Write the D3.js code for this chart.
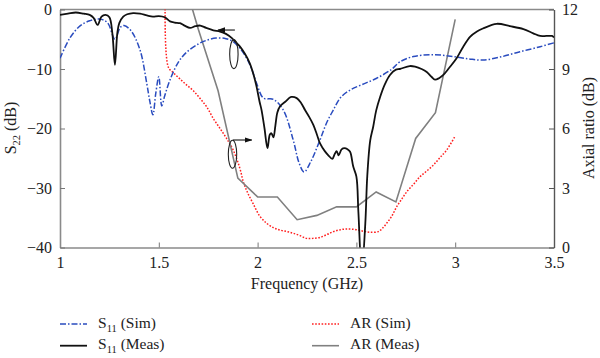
<!DOCTYPE html>
<html><head><meta charset="utf-8">
<script src="https://cdn.jsdelivr.net/npm/d3@7"></script>
<style>
body{margin:0;background:#fff;}
svg{display:block;}
text{font-family:"Liberation Serif","Times New Roman",serif;fill:#222;}
</style></head>
<body><svg id="c" width="600" height="358"></svg>
<script>
// ---- Data ----
const xTicks = [1, 1.5, 2, 2.5, 3, 3.5];
const xTickLabels = ["1", "1.5", "2", "2.5", "3", "3.5"];
const yLeftTicks = [0, -10, -20, -30, -40];
const yLeftTickLabels = ["0", "−10", "−20", "−30", "−40"];
const yRightTicks = [0, 3, 6, 9, 12];
const yRightTickLabels = ["0", "3", "6", "9", "12"];

const s11SimFreq = [1.0,1.05,1.1,1.15,1.2,1.24,1.278,1.305,1.324,1.36,1.405,1.439,1.455,1.47,1.485,1.50,1.515,1.53,1.557,1.6,1.64,1.7,1.74,1.79,1.84,1.876,1.91,1.945,1.97,1.995,2.03,2.08,2.13,2.18,2.21,2.235,2.27,2.316,2.35,2.383,2.42,2.47,2.53,2.60,2.68,2.72,2.788,2.889,2.99,3.07,3.14,3.227,3.328,3.43,3.5];
const s11SimDb = [-8.2,-4.8,-2.8,-1.9,-1.6,-2.2,-5.0,-3.0,-2.7,-3.6,-6.8,-12.4,-15.5,-17.7,-14,-11.3,-16.2,-14.5,-11.8,-8.8,-7.2,-5.8,-5.2,-4.8,-4.9,-5.4,-6.5,-8.2,-10,-12.4,-14.9,-15.1,-16.9,-21.9,-25.8,-27.3,-25.5,-21.9,-19,-16.9,-14.8,-13.5,-12.6,-11.6,-10.0,-8.8,-7.9,-7.6,-7.9,-8.3,-8.5,-8.0,-7.1,-6.25,-5.6];

const s11MeasFreq = [1.0,1.04,1.08,1.12,1.15,1.17,1.19,1.21,1.23,1.25,1.265,1.278,1.29,1.30,1.32,1.34,1.37,1.405,1.44,1.47,1.50,1.53,1.557,1.58,1.607,1.63,1.658,1.685,1.71,1.74,1.776,1.81,1.84,1.87,1.89,1.91,1.935,1.96,1.98,1.995,2.01,2.02,2.035,2.05,2.062,2.07,2.08,2.09,2.10,2.113,2.14,2.17,2.198,2.22,2.24,2.26,2.282,2.30,2.316,2.34,2.358,2.378,2.39,2.40,2.41,2.425,2.44,2.455,2.468,2.484,2.50,2.51,2.527,2.545,2.555,2.57,2.585,2.60,2.62,2.645,2.67,2.70,2.72,2.77,2.797,2.83,2.856,2.88,2.898,2.92,2.94,2.97,3.007,3.04,3.075,3.11,3.14,3.21,3.277,3.345,3.395,3.43,3.49,3.5];
const s11MeasDb = [-0.9,-0.7,-0.5,-0.7,-0.9,-1.4,-2.6,-1.2,-0.9,-1.3,-4,-9.3,-4,-2.3,-1.2,-0.8,-0.6,-0.7,-1.0,-1.2,-1.1,-1.3,-2.0,-2.2,-2.3,-2.7,-3.1,-2.8,-2.7,-3.1,-3.5,-3.7,-4.1,-4.8,-5.5,-6.2,-7.4,-9.0,-11,-13.0,-15.5,-16.9,-20,-23.3,-21,-20.8,-21.5,-19.5,-17.3,-16.3,-15.5,-14.7,-14.9,-15.7,-16.9,-18,-19.4,-21,-22.5,-23.8,-24.5,-25.1,-24.3,-23.8,-24.5,-23.5,-23.3,-23.5,-23.9,-26.4,-28.1,-34,-44,-36,-28,-22,-19.7,-17,-14.7,-12.5,-11,-10.1,-10.0,-9.5,-9.6,-10,-10.5,-11.3,-11.8,-11.5,-11.0,-9.8,-8.2,-6.3,-4.6,-3.7,-3.2,-2.4,-2.8,-3.3,-4.0,-4.45,-4.45,-4.7];

const arSimFreq = [1.533,1.548,1.575,1.607,1.64,1.675,1.71,1.742,1.776,1.81,1.843,1.877,1.91,1.928,1.95,1.978,2.01,2.046,2.08,2.113,2.15,2.18,2.215,2.248,2.28,2.316,2.35,2.383,2.42,2.45,2.485,2.518,2.545,2.57,2.61,2.63,2.653,2.68,2.704,2.73,2.755,2.79,2.822,2.855,2.89,2.92,2.957,3.0];
const arSimDb = [13,9.1,8.8,8.5,8.2,7.9,7.5,7.1,6.5,6.0,5.5,4.9,4.0,3.3,2.75,2.2,1.6,1.22,1.0,0.88,0.8,0.72,0.6,0.46,0.46,0.51,0.65,0.8,0.9,0.93,0.92,0.86,0.8,0.77,0.8,0.95,1.22,1.6,2.06,2.45,2.81,3.2,3.57,3.85,4.16,4.5,4.92,5.62];

const arMeasFreq = [1.6,1.7,1.8,1.9,2.0,2.1,2.2,2.3,2.4,2.5,2.6,2.7,2.8,2.9,3.0];
const arMeasDb = [14.4,11.0,7.9,3.5,2.55,2.55,1.4,1.62,2.05,2.05,2.8,2.3,5.5,6.8,11.5];

const legendNames = ["S11 (Sim)", "S11 (Meas)", "AR (Sim)", "AR (Meas)"];

// ---- Layout ----
const svg = d3.select("#c");
const L = 60, R = 554, T = 9.5, B = 247.5;
const x = d3.scaleLinear().domain([1, 3.5]).range([L, R]);
const yL = d3.scaleLinear().domain([-40, 0]).range([B, T]);
const yR = d3.scaleLinear().domain([0, 12]).range([B, T]);
const FS = 16;

svg.append("defs").append("clipPath").attr("id", "clip")
  .append("rect").attr("x", L).attr("y", T).attr("width", R - L).attr("height", B - T);

// frame top line
svg.append("line").attr("x1", L).attr("x2", R).attr("y1", T).attr("y2", T)
  .attr("stroke", "#8a8a8a").attr("stroke-width", 1.6);

// bottom axis
const gx = svg.append("g").attr("transform", `translate(0,${B})`)
  .call(d3.axisBottom(x).tickValues(xTicks).tickSize(-5).tickSizeOuter(0)
    .tickFormat((d, i) => xTickLabels[i]));
gx.select(".domain").attr("stroke", "#8a8a8a").attr("stroke-width", 1.6);
gx.selectAll(".tick line").attr("stroke", "#777");
gx.selectAll("text").attr("font-size", FS).attr("dy", "0").attr("y", 20)
  .style("font-family", "Liberation Serif").attr("fill", "#222");

// left axis
const gl = svg.append("g").attr("transform", `translate(${L},0)`)
  .call(d3.axisLeft(yL).tickValues(yLeftTicks).tickSize(-5).tickSizeOuter(0)
    .tickFormat((d, i) => yLeftTickLabels[i]));
gl.select(".domain").attr("stroke", "#8a8a8a").attr("stroke-width", 1.6);
gl.selectAll(".tick line").attr("stroke", "#777");
gl.selectAll("text").attr("font-size", FS).attr("x", -8).attr("dy", "0.33em")
  .style("font-family", "Liberation Serif").attr("fill", "#222");

// right axis
const gr = svg.append("g").attr("transform", `translate(${R},0)`)
  .call(d3.axisRight(yR).tickValues(yRightTicks).tickSize(-5).tickSizeOuter(0)
    .tickFormat((d, i) => yRightTickLabels[i]));
gr.select(".domain").attr("stroke", "#555").attr("stroke-width", 1.4);
gr.selectAll(".tick line").attr("stroke", "#555");
gr.selectAll("text").attr("font-size", FS).attr("x", 8).attr("dy", "0.33em")
  .style("font-family", "Liberation Serif").attr("fill", "#222");

// axis titles
svg.append("text").attr("x", 307).attr("y", 289).attr("text-anchor", "middle")
  .attr("font-size", FS).text("Frequency (GHz)");
const lt = svg.append("text").attr("transform", "translate(16,128) rotate(-90)")
  .attr("text-anchor", "middle").attr("font-size", FS);
lt.append("tspan").text("S");
lt.append("tspan").attr("font-size", 10.5).attr("dy", 4).text("22");
lt.append("tspan").attr("dy", -4).text(" (dB)");
svg.append("text").attr("transform", "translate(594,128) rotate(-90)")
  .attr("text-anchor", "middle").attr("font-size", FS).text("Axial ratio (dB)");

// ---- Curves ----
const plot = svg.append("g").attr("clip-path", "url(#clip)");
function series(fx, fy, ys) { return fx.map((f, i) => [x(f), ys(fy[i])]); }
const smooth = d3.line().curve(d3.curveCatmullRom.alpha(0.5));
const lin = d3.line();

const styles = [
  {stroke: "#2a4cbf", width: 1.5, dash: "6,2,1.5,2"},
  {stroke: "#111", width: 1.8, dash: null},
  {stroke: "#ff1f1f", width: 1.5, dash: "1.6,1.6"},
  {stroke: "#808080", width: 1.6, dash: null}
];

plot.append("path").attr("d", smooth(series(arSimFreq, arSimDb, yR)))
  .attr("fill", "none").attr("stroke", styles[2].stroke).attr("stroke-width", styles[2].width)
  .attr("stroke-dasharray", styles[2].dash);
plot.append("path").attr("d", lin(series(arMeasFreq, arMeasDb, yR)))
  .attr("fill", "none").attr("stroke", styles[3].stroke).attr("stroke-width", styles[3].width);
plot.append("path").attr("d", smooth(series(s11SimFreq, s11SimDb, yL)))
  .attr("fill", "none").attr("stroke", styles[0].stroke).attr("stroke-width", styles[0].width)
  .attr("stroke-dasharray", styles[0].dash);
plot.append("path").attr("d", smooth(series(s11MeasFreq, s11MeasDb, yL)))
  .attr("fill", "none").attr("stroke", styles[1].stroke).attr("stroke-width", styles[1].width)
  .attr("stroke-linejoin", "round");

// ---- Annotations ----
const defs = svg.select("defs");
defs.append("marker").attr("id", "ah").attr("viewBox", "0 0 10 10").attr("refX", 9).attr("refY", 5)
  .attr("markerWidth", 7).attr("markerHeight", 7).attr("orient", "auto")
  .append("path").attr("d", "M0,1.5 L10,5 L0,8.5 Z").attr("fill", "#111");
svg.append("ellipse").attr("cx", x(1.88)).attr("cy", yL(-7.5)).attr("rx", 4.2).attr("ry", 14.5)
  .attr("fill", "none").attr("stroke", "#222").attr("stroke-width", 1.1);
svg.append("line").attr("x1", x(1.885)).attr("y1", yL(-3.45)).attr("x2", x(1.8)).attr("y2", yL(-3.45))
  .attr("stroke", "#111").attr("stroke-width", 1.1).attr("marker-end", "url(#ah)");
svg.append("ellipse").attr("cx", x(1.873)).attr("cy", yR(4.7)).attr("rx", 4.2).attr("ry", 14)
  .attr("fill", "none").attr("stroke", "#222").attr("stroke-width", 1.1);
svg.append("line").attr("x1", x(1.875)).attr("y1", yR(5.42)).attr("x2", x(1.97)).attr("y2", yR(5.42))
  .attr("stroke", "#111").attr("stroke-width", 1.1).attr("marker-end", "url(#ah)");

// ---- Legend ----
const legPos = [[60, 324], [60, 345.7], [312, 324], [312, 345.7]];
legendNames.forEach((name, i) => {
  const [lx, ly] = legPos[i];
  const s = styles[i];
  svg.append("line").attr("x1", lx).attr("x2", lx + 27).attr("y1", ly).attr("y2", ly)
    .attr("stroke", s.stroke).attr("stroke-width", s.width)
    .attr("stroke-dasharray", s.dash);
  const t = svg.append("text").attr("x", lx + 38).attr("y", ly + 3.5).attr("font-size", 15.5);
  if (name.startsWith("S11")) {
    t.append("tspan").text("S");
    t.append("tspan").attr("font-size", 10.5).attr("dy", 4).text("11");
    t.append("tspan").attr("dy", -4).text(name.slice(3));
  } else {
    t.text(name);
  }
});
</script>
</body></html>
